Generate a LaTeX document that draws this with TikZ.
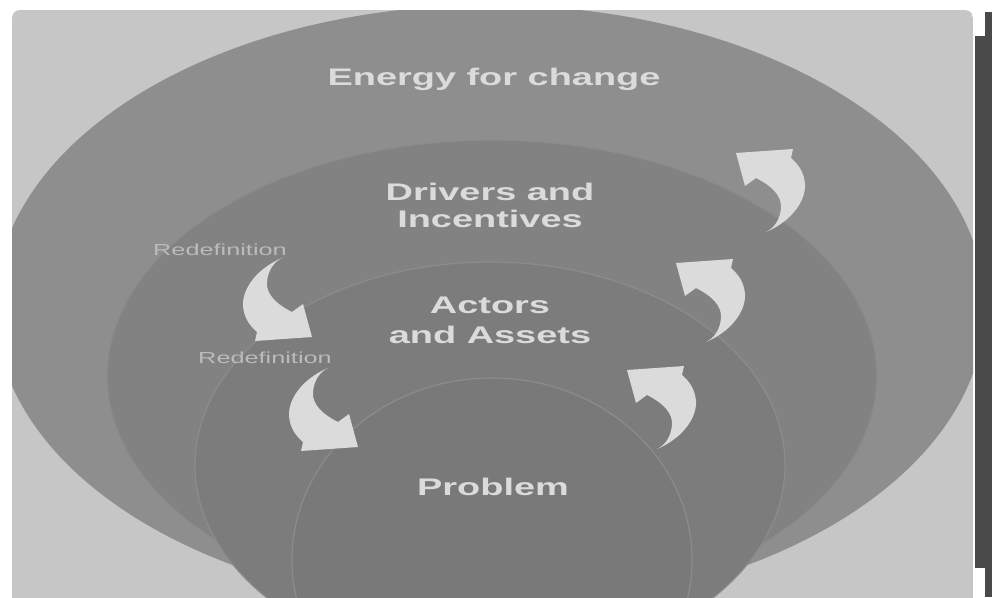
\documentclass[tikz,border=0pt]{standalone}
\usepackage{fontspec}
\usepackage{tikz}
\newfontfamily\ringfont[FakeStretch=1.58]{Liberation Sans}
\definecolor{pagegray}{HTML}{C6C6C6}
\definecolor{ringenergy}{HTML}{8E8E8E}
\definecolor{ringdrivers}{HTML}{828282}
\definecolor{ringactors}{HTML}{7C7C7C}
\definecolor{ringproblem}{HTML}{797979}
\definecolor{ringedge}{HTML}{8C8C8C}
\definecolor{labelwhite}{HTML}{DBDBDB}
\definecolor{notegray}{HTML}{BBBBBB}
\definecolor{bandgray}{HTML}{4A4A4A}
\tikzset{
  ringlabel/.style={text=labelwhite,font=\ringfont\bfseries\fontsize{24}{27}\selectfont,align=center,inner sep=0pt},
  notelabel/.style={text=notegray,font=\ringfont\fontsize{16}{18}\selectfont,inner sep=0pt,anchor=base},
  bendarrow/.pic={
    \fill[labelwhite] (0,0) .. controls (-24,10) and (-40,30) .. (-39,48)
      .. controls (-38,60) and (-32,68) .. (-25,74) -- (-27,83) -- (30,79) -- (21,46) -- (10,54)
      .. controls (-6,46) and (-16,36) .. (-15,24) .. controls (-14,12) and (-8,4) .. (0,0) -- cycle;
  }
}

\begin{document}
\begin{tikzpicture}[x=1pt,y=-1pt]
    \useasboundingbox (0,0) rectangle (992,597);
    % panel and rings
    \begin{scope}
      \clip[rounded corners=8pt] (12,10) rectangle (973,612);
      \fill[pagegray] (12,10) rectangle (973,612);
      \fill[ringenergy] (490,307) ellipse [x radius=495, y radius=302];
      \filldraw[fill=ringdrivers,draw=ringedge,line width=1.2pt] (492,376) ellipse [x radius=385, y radius=236];
      \filldraw[fill=ringactors,draw=ringedge,line width=1.2pt] (490,465) ellipse [x radius=295, y radius=203];
      \filldraw[fill=ringproblem,draw=ringedge,line width=1.2pt] (492,560) ellipse [x radius=200, y radius=182];
    \end{scope}
    % right band
    \fill[bandgray] (975,12) rectangle (992,597);
    \fill[white] (975,12) rectangle (985,36);
    \fill[white] (975,568) rectangle (985,597);
    % labels
    \node[ringlabel,anchor=base] (energy) at (494,85) {Energy for change};
    \node[ringlabel,anchor=north] (drivers) at (490,183) {Drivers and\\Incentives};
    \node[ringlabel,anchor=north,font=\ringfont\bfseries\fontsize{24}{30}\selectfont] (actors) at (490,297) {Actors\\and Assets};
    \node[ringlabel,anchor=base] (problem) at (493,495) {Problem};
    \node[notelabel] (redefouter) at (220,255) {Redefinition};
    \node[notelabel] (redefinner) at (265,363) {Redefinition};
    % arrows
    \foreach \tx/\ty in {282/258,328/368} {\pic at (\tx,\ty) {bendarrow};}
    \foreach \tx/\ty in {766/232,706/342,657/449} {\pic[rotate=180] at (\tx,\ty) {bendarrow};}
\end{tikzpicture}
\end{document}
